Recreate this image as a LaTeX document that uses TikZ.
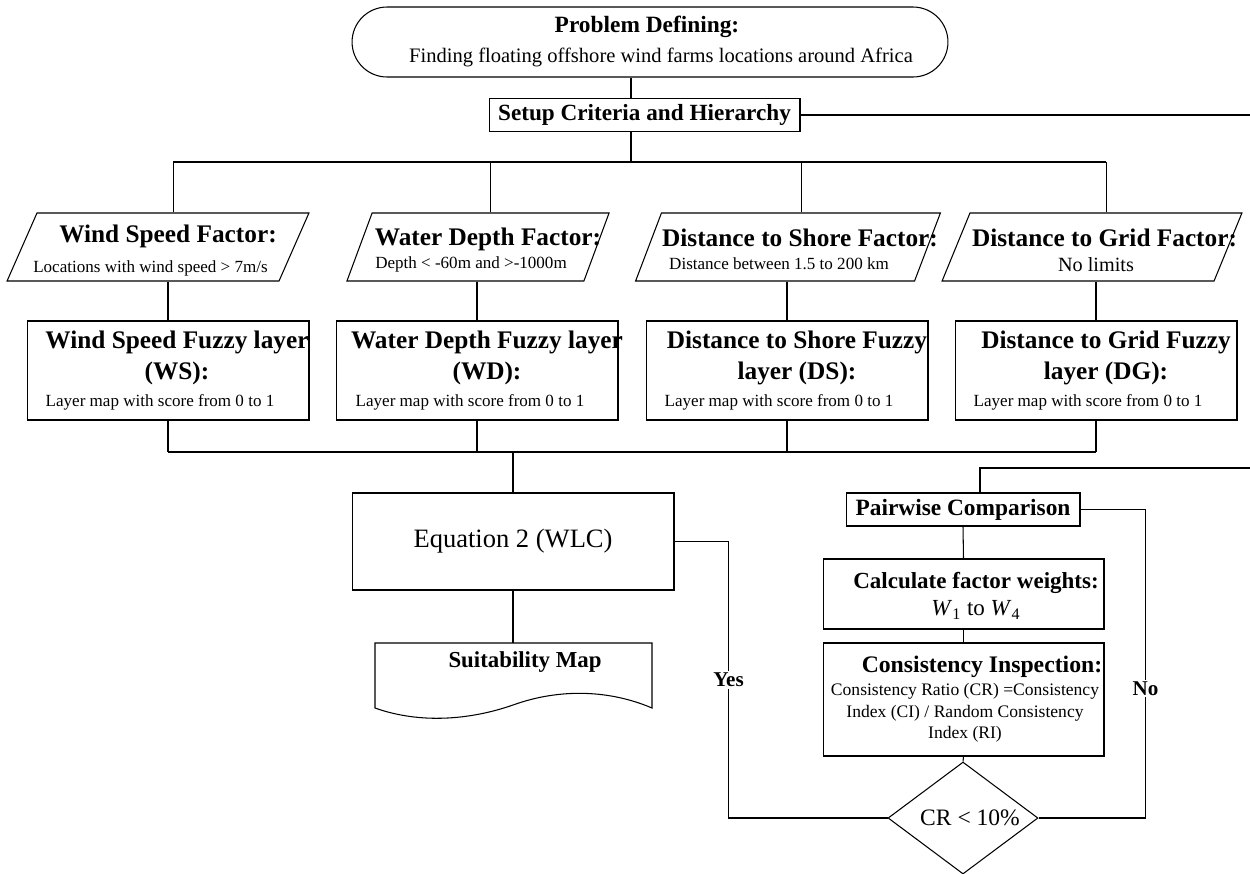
\documentclass[tikz,border=0pt]{standalone}
\usepackage{fontspec}
\setmainfont{Liberation Serif}
\usetikzlibrary{shapes.geometric,positioning}
\tikzset{
		edgeStyle/.style = {line width = 0.6pt},
		boxStyle/.style =  {draw,rectangle,line width = 0.6pt,inner sep=0pt},
		factorStyle/.style = {draw,rectangle,transform shape,minimum height=1.36cm,inner sep=0pt,line width = 0.6pt},
		bigText/.style =   {font=\bfseries\fontsize{14.4}{17.6}\selectfont,align=center,inner sep=0pt},
		midText/.style =   {font=\bfseries\fontsize{13.3}{15.4}\selectfont,align=center,inner sep=0pt},
		smallText/.style = {font=\fontsize{9.7}{12.2}\selectfont,align=center,inner sep=0pt},
		tagText/.style =   {font=\bfseries\fontsize{12}{13}\selectfont,fill=white,inner sep=1pt}
}

\begin{document}
\begin{tikzpicture}[x=0.02cm,y=-0.02cm]
  \useasboundingbox (0,0) rectangle (1250,873);

  % Fixed points of the connector lines
  \coordinate (bus)    at (631,162);
  \coordinate (join)   at (513,452);
  \coordinate (edgeA)  at (1250,115);
  \coordinate (edgeB)  at (1250,468);
  \coordinate (loopIn) at (980,468);
  \coordinate (suitTop) at (513,643);

  % Problem and setup
  \node [boxStyle,rounded corners=0.7cm,minimum width=11.92cm,minimum height=1.4cm] (prob) at (650,42) {};
  \node [midText] (probTitle) at (647,27) {Problem Defining:};
  \node [font=\fontsize{11.7}{14}\selectfont,inner sep=0pt] (probText) at (661,57)
        {Finding floating offshore wind farms locations around Africa};
  \node [boxStyle,minimum width=6.22cm,minimum height=0.66cm,font=\bfseries\fontsize{13.2}{16}\selectfont] (setup)
        at (644.5,115) {Setup Criteria and Hierarchy};

  % Draw factor shapes and fuzzy layer boxes
  \foreach \n/\x/\w/\s/\l in {ws/158/5.44cm/0.44/168, wd/478/4.74cm/0.37/477,
                              ds/788/5.58cm/0.38/787, dg/1092/5.44cm/0.41/1096}
  {
    \begin{scope}[shift={(\x,247)}]
      \node [factorStyle,xslant=\s,minimum width=\w] (f\n) at (0,0) {};
    \end{scope}
    \node [boxStyle,minimum width=5.64cm,minimum height=1.98cm] (l\n) at (\l,370.5) {};
  }

  % Factor texts
  \node [bigText]   (tws) at (168,236) {Wind Speed Factor:};
  \node [smallText] (sws) at (150.5,268) {Locations with wind speed > 7m/s};
  \node [bigText]   (twd) at (488,239) {Water Depth Factor:};
  \node [smallText] (swd) at (471,264) {Depth < -60m and >-1000m};
  \node [bigText]   (tds) at (800,238) {Distance to Shore Factor:};
  \node [smallText] (sds) at (779,264) {Distance between 1.5 to 200 km};
  \node [bigText]   (tdg) at (1104.5,238) {Distance to Grid Factor:};
  \node [font=\fontsize{11.5}{13}\selectfont,inner sep=0pt] (sdg) at (1096,265) {No limits};

  % Fuzzy layer texts
  \node [bigText]   (tlws) at (177,357.5) {Wind Speed Fuzzy layer\\(WS):};
  \node [smallText] (slws) at (160,402) {Layer map with score from 0 to 1};
  \node [bigText]   (tlwd) at (487,357.5) {Water Depth Fuzzy layer\\(WD):};
  \node [smallText] (slwd) at (470,402) {Layer map with score from 0 to 1};
  \node [bigText]   (tlds) at (797,357.5) {Distance to Shore Fuzzy\\layer (DS):};
  \node [smallText] (slds) at (779,402) {Layer map with score from 0 to 1};
  \node [bigText]   (tldg) at (1106,357.5) {Distance to Grid Fuzzy\\layer (DG):};
  \node [smallText] (sldg) at (1088,402) {Layer map with score from 0 to 1};

  % Draw edges of the hierarchy
  \draw [edgeStyle] (prob.south -| bus) -- (setup.north -| bus);
  \draw [edgeStyle] (setup.south -| bus) -- (bus);
  \draw [edgeStyle] (setup.east) -- (edgeA);
  \draw [edgeStyle] (fws.north |- bus) -- (fdg.north |- bus);
  \draw [edgeStyle] (lws.south |- join) -- (ldg.south |- join);
  \foreach \n in {ws,wd,ds,dg}
    \draw [edgeStyle] (f\n.north |- bus) -- (f\n.north)
                      (l\n.north |- f\n.south) -- (l\n.north)
                      (l\n.south) -- (l\n.south |- join);

  % Weighted combination and map
  \node [boxStyle,minimum width=6.44cm,minimum height=1.94cm,font=\fontsize{15.1}{17}\selectfont] (eqn)
        at (513,541.5) {Equation 2 (WLC)};
  \draw [edgeStyle] (join) -- (eqn.north);
  \draw [edgeStyle] (eqn.south) -- (suitTop);
  \draw [edgeStyle] (375,643) -- (652,643) -- (652,708)
        .. controls (610,690) and (560,688) .. (513,705)
        .. controls (470,720) and (420,724) .. (375,708) -- cycle;
  \node [font=\bfseries\fontsize{13}{16}\selectfont,inner sep=0pt] (suit) at (525,662) {Suitability Map};

  % Weights branch
  \node [boxStyle,midText,minimum width=4.68cm,minimum height=0.66cm] (pair) at (963,509.5) {Pairwise Comparison};
  \draw [edgeStyle] (pair.north -| loopIn) -- (loopIn) -- (edgeB);
  \node [boxStyle,minimum width=5.62cm,minimum height=1.4cm] (calc) at (963.5,594) {};
  \node [midText,font=\bfseries\fontsize{13.1}{15.4}\selectfont] (calcText) at (976,596)
        {Calculate factor weights:\\\mdseries\textit{W}\textsubscript{1} to \textit{W}\textsubscript{4}};
  \node [boxStyle,minimum width=5.62cm,minimum height=2.26cm] (cons) at (963.5,699.5) {};
  \node [midText,font=\bfseries\fontsize{13.5}{15.4}\selectfont] (consTitle) at (982,667) {Consistency Inspection:};
  \node [smallText,font=\fontsize{10}{12.2}\selectfont] (consText) at (965,713)
        {Consistency Ratio (CR) =Consistency\\Index (CI) / Random Consistency\\Index (RI)};
  \node [draw,diamond,line width=0.6pt,minimum width=3.0cm,minimum height=2.24cm,inner sep=0pt] (crit) at (963,818) {};
  \node [font=\fontsize{13.4}{15}\selectfont,inner sep=0pt] (critText) at (970,818) {CR < 10\%};

  \draw [edgeStyle] (pair.south) -- (calc.north);
  \draw [edgeStyle] (calc.south) -- (cons.north);
  \draw [edgeStyle] (cons.south) -- (crit.north);
  \draw [edgeStyle] (eqn.east) -- ++(54,0) |- (crit.west) node [tagText,pos=0.25] (yes) {Yes};
  \draw [edgeStyle] (pair.east) -- ++(65,0) |- (crit.east) node [tagText,pos=0.29] (no) {No};

\end{tikzpicture}
\end{document}
